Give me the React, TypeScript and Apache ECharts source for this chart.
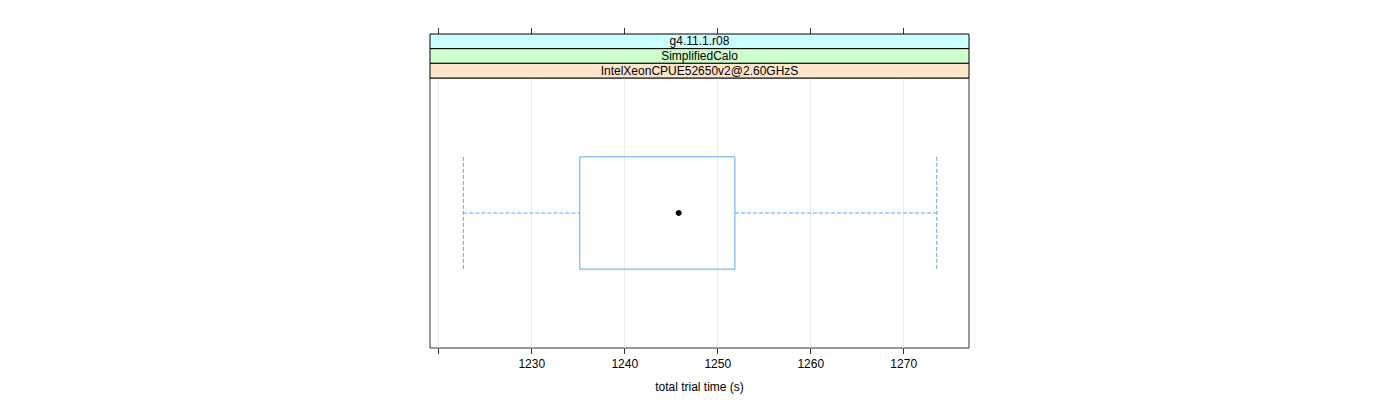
import React, { useEffect, useRef } from "react";
import * as echarts from "echarts";

const stripLabels = ["g4.11.1.r08", "SimplifiedCalo", "IntelXeonCPUE52650v2@2.60GHzS"];
const stripColors = ["#ccffff", "#ccffcc", "#ffe5cc"];
const categories = ["IntelXeonCPUE52650v2@2.60GHzS"];
// [category index, min, q1, median, q3, max]
const boxStats = [[0, 1222.65, 1235.17, 1245.8, 1251.85, 1273.55]];
const tickValues = [1220, 1230, 1240, 1250, 1260, 1270];
const labelValues = [1230, 1240, 1250, 1260, 1270];
const xMin = 1219.06;
const xMax = 1277.02;
const axisTitle = "total trial time (s)";

const FONT = "Liberation Sans, Arial, Helvetica, sans-serif";

export default function App() {
  const ref = useRef<HTMLDivElement>(null);
  useEffect(() => {
    document.body.style.margin = "0";
    const chart = echarts.init(ref.current!, null, { renderer: "svg" });
    const gridLeft = 430;
    const gridTop = 78;
    const gridW = 539;
    const gridH = 270;
    const stripTop = 34;
    const stripH = (gridTop - stripTop) / stripLabels.length;
    const boxColor = "#5aa8ff";

    const graphics: any[] = [];
    stripLabels.forEach((lab, i) => {
      graphics.push({
        type: "rect",
        z: 10,
        shape: { x: gridLeft, y: stripTop + i * stripH, width: gridW, height: stripH },
        style: { fill: stripColors[i], stroke: "#000", lineWidth: 1 },
      });
      graphics.push({
        type: "text",
        z: 11,
        x: gridLeft + gridW / 2,
        y: stripTop + i * stripH + stripH / 2,
        style: {
          text: lab,
          fill: "#000",
          font: `12px ${FONT}`,
          align: "center",
          verticalAlign: "middle",
        },
      });
    });

    const option: any = {
      animation: false,
      grid: {
        left: gridLeft,
        top: gridTop,
        width: gridW,
        height: gridH,
        show: true,
        borderColor: "#333",
        borderWidth: 1,
        backgroundColor: "transparent",
      },
      xAxis: [
        {
          type: "value",
          min: xMin,
          max: xMax,
          position: "bottom",
          axisLine: { show: false },
          axisTick: { show: true, length: 6, lineStyle: { color: "#333" }, customValues: tickValues },
          axisLabel: {
            show: true,
            customValues: labelValues,
            formatter: (v: number) => String(v),
            color: "#000",
            fontSize: 12,
            fontFamily: FONT,
            margin: 10,
          },
          splitLine: { show: true, lineStyle: { color: "#ebebeb", width: 1 } },
          name: axisTitle,
          nameLocation: "middle",
          nameGap: 33,
          nameTextStyle: { color: "#000", fontSize: 12, fontFamily: FONT },
        },
        {
          type: "value",
          min: xMin,
          max: xMax,
          position: "top",
          offset: gridTop - stripTop,
          axisLine: { show: false },
          axisTick: { show: true, length: 6, lineStyle: { color: "#333" }, customValues: tickValues },
          axisLabel: { show: false },
          splitLine: { show: false },
        },
      ],
      yAxis: {
        type: "category",
        data: categories,
        axisLine: { show: false },
        axisTick: { show: false },
        axisLabel: { show: false },
        splitLine: { show: false },
      },
      graphic: graphics,
      series: [
        {
          type: "custom",
          xAxisIndex: 0,
          encode: { x: [1, 2, 3, 4, 5], y: 0 },
          data: boxStats,
          renderItem: (params: any, api: any) => {
            const cat = api.value(0);
            const pMin = api.coord([api.value(1), cat]);
            const pQ1 = api.coord([api.value(2), cat]);
            const pMed = api.coord([api.value(3), cat]);
            const pQ3 = api.coord([api.value(4), cat]);
            const pMax = api.coord([api.value(5), cat]);
            const band = api.size([0, 1])[1];
            const h = band * 0.208;
            const cy = pMed[1];
            const dashed = { stroke: boxColor, lineWidth: 1, lineDash: [4, 2], fill: "none" };
            return {
              type: "group",
              children: [
                {
                  type: "line",
                  shape: { x1: pMin[0], y1: cy, x2: pQ1[0], y2: cy },
                  style: dashed,
                },
                {
                  type: "line",
                  shape: { x1: pQ3[0], y1: cy, x2: pMax[0], y2: cy },
                  style: dashed,
                },
                {
                  type: "line",
                  shape: { x1: pMin[0], y1: cy - h, x2: pMin[0], y2: cy + h },
                  style: dashed,
                },
                {
                  type: "line",
                  shape: { x1: pMax[0], y1: cy - h, x2: pMax[0], y2: cy + h },
                  style: dashed,
                },
                {
                  type: "rect",
                  shape: { x: pQ1[0], y: cy - h, width: pQ3[0] - pQ1[0], height: 2 * h },
                  style: { fill: "none", stroke: boxColor, lineWidth: 1 },
                },
                {
                  type: "circle",
                  shape: { cx: pMed[0], cy: cy, r: 3 },
                  style: { fill: "#000" },
                },
              ],
            };
          },
        },
      ],
    };
    chart.setOption(option);
    return () => chart.dispose();
  }, []);
  return <div ref={ref} style={{ width: 1400, height: 400 }} />;
}
